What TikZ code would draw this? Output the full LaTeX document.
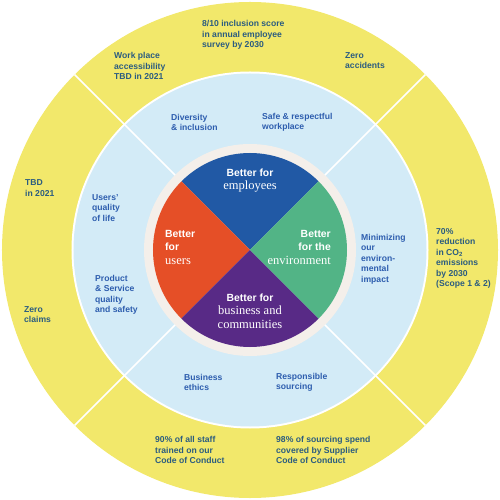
\documentclass[tikz,border=0pt]{standalone}
\usepackage{fontspec}
\setmainfont{Liberation Serif}
\setsansfont{Liberation Sans}
\usetikzlibrary{positioning}
\definecolor{cYel}{HTML}{F2E86B}
\definecolor{cSky}{HTML}{D3EBF7}
\definecolor{cCream}{HTML}{F4EFEA}
\definecolor{cEmp}{HTML}{2159A5}
\definecolor{cUsr}{HTML}{E54F27}
\definecolor{cEnv}{HTML}{52B486}
\definecolor{cBus}{HTML}{582A86}
\definecolor{cTxtY}{HTML}{2B5C80}
\definecolor{cTxtB}{HTML}{2D5DAE}
\newcommand{\hdf}{\sffamily\bfseries\fontsize{10.4}{13.5}\selectfont}

\begin{document}
\begin{tikzpicture}[x=1pt,y=1pt,
   yl/.style={anchor=west,align=left,inner sep=0pt,text=cTxtY,font=\sffamily\bfseries\fontsize{8.6}{10.5}\selectfont},
   bl/.style={anchor=west,align=left,inner sep=0pt,text=cTxtB,font=\sffamily\bfseries\fontsize{8.6}{10.5}\selectfont},
   cl/.style={inner sep=0pt,text=white,font=\fontsize{12.5}{13.5}\selectfont},
   sep/.style={white,line width=1.6pt}]
  \useasboundingbox (-250,-250) rectangle (250,250);
  % rings
  \fill[cYel] (0,0) circle[radius=248pt];
  \fill[white] (0,0) circle[radius=178.5pt];
  \fill[cSky] (0,0) circle[radius=176.5pt];
  \fill[cCream] (0,0) circle[radius=106pt];
  % pie
  \fill[cEmp] (0,0) -- (45:97pt) arc[start angle=45,end angle=135,radius=97pt] -- cycle;
  \fill[cUsr] (0,0) -- (135:97pt) arc[start angle=135,end angle=225,radius=97pt] -- cycle;
  \fill[cBus] (0,0) -- (225:97pt) arc[start angle=225,end angle=315,radius=97pt] -- cycle;
  \fill[cEnv] (0,0) -- (315:97pt) arc[start angle=315,end angle=405,radius=97pt] -- cycle;
  \foreach \a in {45,135,225,315}
    \draw[sep] (\a:106pt) -- (\a:248pt);
  % outer ring
  \node[yl] (incl) at (-48,215) {8/10 inclusion score\\in annual employee\\survey by 2030};
  \node[yl] (wpa) at (-136,184) {Work place\\accessibility\\TBD in 2021};
  \node[yl] (zacc) at (95,189.5) {Zero\\accidents};
  \node[yl] (tbd) at (-225,62) {TBD\\in 2021};
  \node[yl] (zclm) at (-226,-64.5) {Zero\\claims};
  \node[yl] (staff) at (-95,-200) {90\% of all staff\\trained on our\\Code of Conduct};
  \node[yl] (spend) at (26,-200) {98\% of sourcing spend\\covered by Supplier\\Code of Conduct};
  \node[yl] (co2) at (186,-8.5) {70\%\\reduction\\in CO\textsubscript{2}\\emissions\\by 2030\\(Scope 1 \& 2)};
  % inner ring
  \node[bl] (div) at (-79,127.5) {Diversity\\\& inclusion};
  \node[bl] (safe) at (12,127.5) {Safe \& respectful\\workplace};
  \node[bl] (qol) at (-158,42) {Users'\\quality\\of life};
  \node[bl] (prod) at (-155,-45) {Product\\\& Service\\quality\\and safety};
  \node[bl] (eth) at (-66,-132.5) {Business\\ethics};
  \node[bl] (src) at (26,-132.5) {Responsible\\sourcing};
  \node[bl] (env) at (111,-9) {Minimizing\\our\\environ-\\mental\\impact};
  % pie labels
  \node[cl,align=center] (pEmp) at (0,69.5) {{\hdf Better for}\\employees};
  \node[cl,align=left,anchor=west] (pUsr) at (-85,3) {{\hdf Better}\\{\hdf for}\\users};
  \node[cl,align=right,anchor=east] (pEnv) at (81,3) {{\hdf Better}\\{\hdf for the}\\environment};
  \node[cl,align=center] (pBus) at (0,-61) {{\hdf Better for}\\business and\\communities};
\end{tikzpicture}
\end{document}
